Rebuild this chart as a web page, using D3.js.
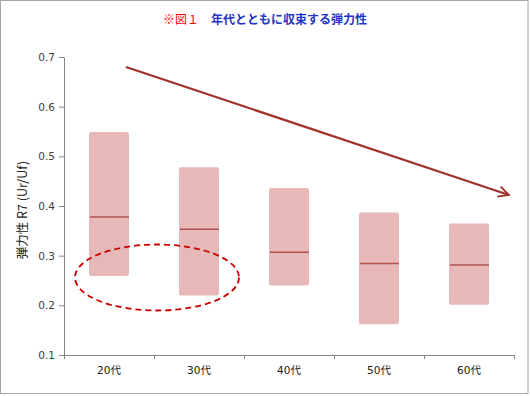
<!DOCTYPE html>
<html>
<head>
<meta charset="utf-8">
<script src="https://cdnjs.cloudflare.com/ajax/libs/d3/7.8.5/d3.min.js"></script>
<style>
  body { margin: 0; background: #fff; }
  svg { display: block; font-family: "DejaVu Sans", "Noto Sans CJK JP", sans-serif; }
</style>
</head>
<body>
<svg width="530" height="396"></svg>
<script>
// data
const ages = ['20代', '30代', '40代', '50代', '60代'];
const highs = [0.549, 0.478, 0.436, 0.387, 0.365];
const lows = [0.259, 0.220, 0.240, 0.162, 0.201];
const medians = [0.378, 0.353, 0.307, 0.284, 0.281];
const yTicks = [0.1, 0.2, 0.3, 0.4, 0.5, 0.6, 0.7];

(function () {
  const svg = d3.select('svg');
  const width = Number(svg.attr('width'));
  const height = Number(svg.attr('height'));

  // outer frame
  svg.append('rect')
    .attr('x', 0.5).attr('y', 0.5)
    .attr('width', width - 2.5).attr('height', height - 3)
    .attr('fill', '#fff')
    .attr('stroke', '#a6a6a6');

  // title
  const title = svg.append('text')
    .attr('x', 163).attr('y', 24)
    .attr('font-family', '"Noto Sans CJK JP", sans-serif')
    .attr('font-size', 12);
  title.append('tspan').attr('fill', '#ff0000').text('※図１　');
  title.append('tspan').attr('fill', '#1f35c8').attr('font-weight', 'bold').text('年代とともに収束する弾力性');

  const left = 64, right = 514, top = 57, bottom = 355;

  const x = d3.scaleBand().domain(ages).range([left, right]);
  const y = d3.scaleLinear().domain([0.1, 0.7]).range([bottom, top]);

  // y axis
  const yAxis = svg.append('g')
    .attr('transform', `translate(${left},0)`)
    .call(d3.axisLeft(y).tickValues(yTicks).tickFormat(d3.format('.1f')).tickSize(5).tickSizeOuter(0).tickPadding(4));
  yAxis.select('.domain').attr('stroke', '#868686');
  yAxis.selectAll('.tick line').attr('stroke', '#868686');
  yAxis.selectAll('.tick text')
    .attr('fill', '#404040')
    .attr('font-size', 10.5)
    .attr('font-family', '"DejaVu Sans", sans-serif');

  // x axis
  const xAxis = svg.append('g')
    .attr('transform', `translate(0,${bottom})`)
    .call(d3.axisBottom(x).tickSize(0).tickPadding(12));
  xAxis.select('.domain').attr('stroke', '#868686');
  xAxis.selectAll('.tick text')
    .attr('fill', '#202020')
    .attr('font-size', 10.5)
    .attr('font-family', '"DejaVu Sans", "Noto Sans CJK JP", sans-serif');
  // ticks between the categories
  const bounds = ages.map(d => x(d)).concat([right]);
  xAxis.selectAll('.sep')
    .data(bounds)
    .enter()
    .append('line')
    .attr('class', 'sep')
    .attr('x1', d => d + 0.5).attr('x2', d => d + 0.5)
    .attr('y1', 0).attr('y2', 4)
    .attr('stroke', '#868686');

  // y axis title
  svg.append('text')
    .attr('transform', `translate(27,${(top + bottom) / 2 + 4}) rotate(-90)`)
    .attr('text-anchor', 'middle')
    .attr('font-size', 12.5)
    .attr('fill', '#202020')
    .attr('font-family', '"Noto Sans CJK JP", sans-serif')
    .text('弾力性 R7 (Ur/Uf)');

  // boxes
  const boxW = 40;
  const rows = ages.map((a, i) => ({a, hi: highs[i], lo: lows[i], med: medians[i]}));
  const g = svg.append('g');
  g.selectAll('rect.box')
    .data(rows)
    .enter()
    .append('rect')
    .attr('class', 'box')
    .attr('x', d => x(d.a) + x.bandwidth() / 2 - boxW / 2)
    .attr('y', d => y(d.hi))
    .attr('width', boxW)
    .attr('height', d => y(d.lo) - y(d.hi))
    .attr('rx', 2)
    .attr('fill', '#e6b8b7');
  g.selectAll('line.med')
    .data(rows)
    .enter()
    .append('line')
    .attr('class', 'med')
    .attr('x1', d => x(d.a) + x.bandwidth() / 2 - boxW / 2 + 1)
    .attr('x2', d => x(d.a) + x.bandwidth() / 2 + boxW / 2)
    .attr('y1', d => y(d.med)).attr('y2', d => y(d.med))
    .attr('stroke', '#b45250')
    .attr('stroke-width', 1.5);

  // dashed ellipse around the lower ends of 20代 and 30代
  svg.append('ellipse')
    .attr('cx', 157).attr('cy', 277.5)
    .attr('rx', 82).attr('ry', 33)
    .attr('fill', 'none')
    .attr('stroke', '#cc0000')
    .attr('stroke-width', 1.8)
    .attr('stroke-dasharray', '6,4');

  // trend arrow
  svg.append('defs').append('marker')
    .attr('id', 'head')
    .attr('viewBox', '0 0 10 10')
    .attr('refX', 9).attr('refY', 5)
    .attr('markerWidth', 6).attr('markerHeight', 6)
    .attr('markerUnits', 'strokeWidth')
    .attr('orient', 'auto')
    .append('path')
    .attr('d', 'M1,1 L9,5 L1,9')
    .attr('fill', 'none')
    .attr('stroke', '#a0322e')
    .attr('stroke-width', 1.4);
  svg.append('line')
    .attr('x1', 126).attr('y1', 67)
    .attr('x2', 509).attr('y2', 195)
    .attr('stroke', '#a0322e')
    .attr('stroke-width', 2.2)
    .attr('marker-end', 'url(#head)');
})();
</script>
</body>
</html>
